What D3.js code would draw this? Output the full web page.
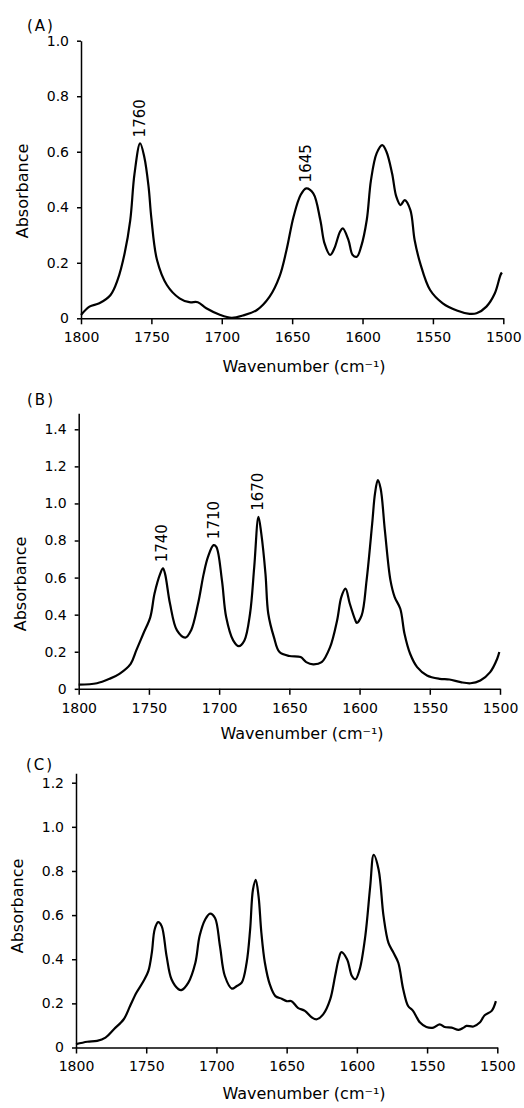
<!DOCTYPE html>
<html>
<head>
<meta charset="utf-8">
<script src="https://cdn.jsdelivr.net/npm/d3@7"></script>
<style>
  html, body { margin: 0; padding: 0; background: #fff; }
  svg { display: block; font-family: "DejaVu Sans", sans-serif; }
  .tick text { font-size: 14px; fill: #000; }
  .axis path, .axis line { stroke: #000; stroke-width: 1.5; }
</style>
</head>
<body>
<div id="chart"></div>
<script>
// Spectrum (A)
var waveA = [1800, 1794, 1787, 1779, 1774, 1769, 1765, 1762, 1758, 1755, 1752, 1750, 1746, 1739, 1730, 1723, 1717, 1711, 1701, 1693, 1685, 1675, 1666, 1659, 1654, 1649, 1644, 1640, 1635, 1630, 1627, 1623, 1620, 1616, 1614, 1610, 1607, 1604, 1601, 1597, 1594, 1590, 1586, 1583, 1579, 1576, 1573, 1570, 1566, 1563, 1559, 1552, 1543, 1533, 1524, 1519, 1512, 1506, 1502, 1501];
var absA = [0.012, 0.042, 0.054, 0.084, 0.138, 0.234, 0.354, 0.52, 0.63, 0.58, 0.474, 0.36, 0.21, 0.12, 0.072, 0.058, 0.058, 0.036, 0.012, 0.002, 0.01, 0.03, 0.078, 0.15, 0.246, 0.366, 0.444, 0.468, 0.45, 0.354, 0.27, 0.228, 0.252, 0.312, 0.324, 0.282, 0.228, 0.222, 0.258, 0.354, 0.498, 0.594, 0.624, 0.6, 0.522, 0.438, 0.408, 0.426, 0.39, 0.282, 0.198, 0.102, 0.054, 0.028, 0.016, 0.018, 0.042, 0.09, 0.156, 0.165];

// Spectrum (B)
var waveB = [1800, 1787, 1778, 1771, 1763, 1759, 1754, 1749, 1746, 1742, 1740, 1738.5, 1735, 1730, 1724, 1720, 1715, 1711, 1708, 1704, 1702, 1698, 1695, 1690, 1686, 1682, 1678, 1675, 1672, 1670, 1667, 1665, 1661, 1657, 1650, 1642, 1638, 1633, 1627, 1621, 1616, 1613, 1610, 1607, 1603, 1602, 1598.5, 1595, 1591, 1589, 1587, 1585, 1582, 1578, 1575, 1571, 1568, 1564, 1559, 1552, 1543, 1536, 1528, 1521, 1514, 1507, 1502, 1500.5];
var absB = [0.023, 0.03, 0.054, 0.081, 0.135, 0.207, 0.297, 0.387, 0.514, 0.62, 0.65, 0.62, 0.46, 0.315, 0.276, 0.315, 0.46, 0.62, 0.71, 0.775, 0.766, 0.585, 0.387, 0.261, 0.23, 0.261, 0.405, 0.658, 0.928, 0.838, 0.62, 0.405, 0.279, 0.198, 0.177, 0.171, 0.144, 0.132, 0.144, 0.225, 0.369, 0.495, 0.54, 0.46, 0.369, 0.355, 0.396, 0.585, 0.892, 1.054, 1.126, 1.081, 0.856, 0.585, 0.495, 0.432, 0.297, 0.189, 0.117, 0.072, 0.054, 0.05, 0.036, 0.03, 0.045, 0.09, 0.162, 0.198];

// Spectrum (C)
var waveC = [1800, 1792, 1785, 1779, 1773, 1766, 1761.5, 1757, 1752, 1748.5, 1746, 1744, 1741.5, 1739, 1735.5, 1732, 1727, 1725, 1720, 1715, 1712, 1708, 1704.5, 1701, 1697.5, 1694, 1689, 1685.5, 1682, 1678.5, 1676, 1674, 1672, 1670, 1668, 1665.5, 1662, 1658, 1653.5, 1650, 1646.5, 1642, 1637, 1632, 1628.5, 1624, 1619, 1615.5, 1613, 1611, 1607, 1603.5, 1601, 1598, 1594, 1590.5, 1588, 1584.5, 1581, 1577.5, 1574, 1570.5, 1567, 1563.5, 1560, 1555, 1550.5, 1545.5, 1541, 1537.5, 1532.5, 1527.5, 1524, 1522, 1517, 1512.5, 1509, 1504, 1501];
var absC = [0.015, 0.026, 0.03, 0.045, 0.083, 0.128, 0.188, 0.248, 0.3, 0.346, 0.43, 0.535, 0.568, 0.55, 0.414, 0.309, 0.264, 0.26, 0.294, 0.384, 0.505, 0.58, 0.607, 0.587, 0.46, 0.324, 0.267, 0.279, 0.294, 0.384, 0.535, 0.715, 0.76, 0.685, 0.52, 0.384, 0.286, 0.233, 0.221, 0.21, 0.21, 0.18, 0.166, 0.136, 0.128, 0.15, 0.218, 0.324, 0.4, 0.432, 0.4, 0.324, 0.309, 0.354, 0.505, 0.73, 0.873, 0.806, 0.595, 0.474, 0.43, 0.384, 0.264, 0.188, 0.166, 0.113, 0.093, 0.09, 0.105, 0.093, 0.09, 0.08, 0.09, 0.098, 0.095, 0.113, 0.146, 0.166, 0.21];

// Ticks and peak annotations
var xTicks = [1800, 1750, 1700, 1650, 1600, 1550, 1500];
var yTicksA = [0, 0.2, 0.4, 0.6, 0.8, 1.0];
var yTicksB = [0, 0.2, 0.4, 0.6, 0.8, 1.0, 1.2, 1.4];
var yTicksC = [0, 0.2, 0.4, 0.6, 0.8, 1.0, 1.2];
var peaksA = [{ w: 1758, a: 0.63, text: "1760" }, { w: 1640, a: 0.468, text: "1645" }];
var peaksB = [{ w: 1740.4, a: 0.65, text: "1740" }, { w: 1704, a: 0.775, text: "1710" }, { w: 1672, a: 0.928, text: "1670" }];

var W = 524, H = 1108;

var svg = d3.select("#chart").append("svg")
  .attr("width", W)
  .attr("height", H);

// layout per panel: x pixels of 1800 / 1500, pixel of y=0, pixel of top tick, top of axis line
var panels = [
  { tag: "(A)", wave: waveA, abs: absA, yTicks: yTicksA, peaks: peaksA,
    x0: 81, x1: 503.3, yZero: 318.3, yTopTickPx: 40.7, axisTop: 40.7,
    tagPos: [27, 31], ylab: [22, 191], xlab: [304, 372] },
  { tag: "(B)", wave: waveB, abs: absB, yTicks: yTicksB, peaks: peaksB,
    x0: 78.7, x1: 500, yZero: 688.8, yTopTickPx: 429.3, axisTop: 413.3,
    tagPos: [27, 405], ylab: [20, 584], xlab: [302, 739] },
  { tag: "(C)", wave: waveC, abs: absC, yTicks: yTicksC, peaks: [],
    x0: 76, x1: 497.3, yZero: 1047.5, yTopTickPx: 782.7, axisTop: 773.3,
    tagPos: [26, 770], ylab: [17, 906], xlab: [304, 1099] }
];

panels.forEach(function (p) {
  var topTick = p.yTicks[p.yTicks.length - 1];
  var yMax = topTick * (p.yZero - p.axisTop) / (p.yZero - p.yTopTickPx);

  var x = d3.scaleLinear().domain([1800, 1500]).range([p.x0, p.x1]);
  var y = d3.scaleLinear().domain([0, yMax]).range([p.yZero, p.axisTop]);

  var g = svg.append("g");

  // Axes
  g.append("g")
    .attr("class", "axis")
    .attr("transform", "translate(0," + p.yZero + ")")
    .call(d3.axisBottom(x).tickValues(xTicks).tickSize(6).tickSizeOuter(0)
      .tickPadding(8).tickFormat(d3.format("d")));

  g.append("g")
    .attr("class", "axis")
    .attr("transform", "translate(" + p.x0 + ",0)")
    .call(d3.axisLeft(y).tickValues(p.yTicks).tickSize(4).tickSizeOuter(0)
      .tickPadding(8)
      .tickFormat(function (d) { return d === 0 ? "0" : d3.format(".1f")(d); }));

  svg.selectAll(".axis").attr("font-family", null).attr("font-size", null);

  // Spectrum line
  var pts = p.wave.map(function (w, i) { return [w, p.abs[i]]; });
  var line = d3.line()
    .x(function (d) { return x(d[0]); })
    .y(function (d) { return y(d[1]); })
    .curve(d3.curveCatmullRom.alpha(0.5));

  g.append("path")
    .datum(pts)
    .attr("fill", "none")
    .attr("stroke", "#000")
    .attr("stroke-width", 2.2)
    .attr("stroke-linejoin", "round")
    .attr("d", line);

  // Peak labels (rotated, reading upward)
  p.peaks.forEach(function (pk) {
    var px = x(pk.w), py = y(pk.a) - 6;
    g.append("text")
      .attr("transform", "translate(" + (px + 5) + "," + py + ") rotate(-90)")
      .attr("font-size", 15)
      .attr("text-anchor", "start")
      .text(pk.text);
  });

  // Panel tag
  g.append("text")
    .attr("x", p.tagPos[0])
    .attr("y", p.tagPos[1])
    .attr("font-size", 15)
    .attr("letter-spacing", 2)
    .text(p.tag);

  // Axis titles
  g.append("text")
    .attr("transform", "translate(" + (p.ylab[0] + 6) + "," + p.ylab[1] + ") rotate(-90)")
    .attr("text-anchor", "middle")
    .attr("font-size", 16)
    .text("Absorbance");

  g.append("text")
    .attr("x", p.xlab[0])
    .attr("y", p.xlab[1])
    .attr("text-anchor", "middle")
    .attr("font-size", 16)
    .text("Wavenumber (cm⁻¹)");
});
</script>
</body>
</html>
